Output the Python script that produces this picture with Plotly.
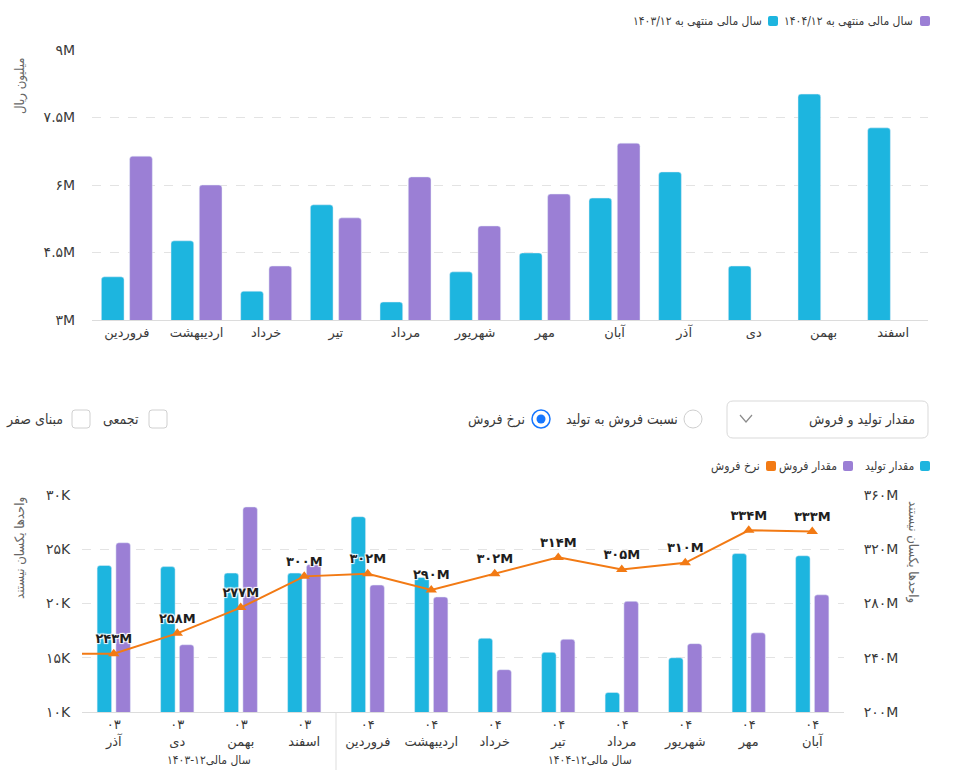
import plotly.graph_objects as go

W, H = 954, 770
FONT = "DejaVu Sans"
FONT_C = "DejaVu Sans Condensed, DejaVu Sans"

def px(x):
    return x / W

def py(y):
    return 1 - y / H

FA = str.maketrans("0123456789", "۰۱۲۳۴۵۶۷۸۹")
def to_fa(s):
    return str(s).translate(FA)

# ---------------- data: top chart ----------------
months_top = ["فروردین", "اردیبهشت", "خرداد", "تیر", "مرداد", "شهریور",
              "مهر", "آبان", "آذر", "دی", "بهمن", "اسفند"]
fy1403_name = "سال مالی منتهی به ۱۴۰۳/۱۲"
fy1404_name = "سال مالی منتهی به ۱۴۰۴/۱۲"
fy1403 = [3.96, 4.76, 3.64, 5.56, 3.40, 4.07, 4.49, 5.71, 6.29, 4.20, 8.02, 7.27]
fy1404 = [6.64, 6.00, 4.20, 5.27, 6.18, 5.09, 5.80, 6.93, None, None, None, None]
top_ticks = [3, 4.5, 6, 7.5, 9]
top_ticktext = [to_fa(("%g" % v)) + "M" for v in top_ticks]
top_ytitle = "میلیون ریال"

# ---------------- data: bottom chart ----------------
bottom_years = ["03"] * 4 + ["04"] * 8
bottom_months = ["آذر", "دی", "بهمن", "اسفند", "فروردین", "اردیبهشت",
                 "خرداد", "تیر", "مرداد", "شهریور", "مهر", "آبان"]
group_labels = ["سال مالی۱۲-۱۴۰۳", "سال مالی۱۲-۱۴۰۴"]
production = [23.5, 23.4, 22.8, 22.8, 28.0, 22.4, 16.8, 15.5, 11.8, 15.0, 24.6, 24.4]
sales = [25.6, 16.2, 28.9, 23.6, 21.7, 20.6, 13.9, 16.7, 20.2, 16.3, 17.3, 20.8]
price_before_window = 243  # previous month, outside the visible window
price = [243, 258, 277, 300, 302, 290, 302, 314, 305, 310, 334, 333]
left_ticks = [10, 15, 20, 25, 30]
left_ticktext = [to_fa(v) + "K" for v in left_ticks]
right_ticks = [200, 240, 280, 320, 360]
right_ticktext = [to_fa(v) + "M" for v in right_ticks]
bottom_ytitle = "واحدها یکسان نیستند"
names_bottom = ["مقدار تولید", "مقدار فروش", "نرخ فروش"]

CYAN = "#1db5df"
PURPLE = "#9b7fd5"
ORANGE = "#f27a14"
TXT = "#3a3a3a"
GRID = "#e3e3e3"

fig = go.Figure()

# top bars
xt = list(range(len(months_top)))
fig.add_trace(go.Bar(x=xt, y=fy1403, name=fy1403_name, marker_color=CYAN,
                     width=0.326, offset=-0.366, xaxis="x", yaxis="y"))
fig.add_trace(go.Bar(x=xt, y=fy1404, name=fy1404_name, marker_color=PURPLE,
                     width=0.326, offset=0.04, xaxis="x", yaxis="y"))

# bottom bars
xb = list(range(len(bottom_months)))
fig.add_trace(go.Bar(x=xb, y=production, name=names_bottom[0], marker_color=CYAN,
                     width=0.228, offset=-0.262, xaxis="x2", yaxis="y2"))
fig.add_trace(go.Bar(x=xb, y=sales, name=names_bottom[1], marker_color=PURPLE,
                     width=0.228, offset=0.034, xaxis="x2", yaxis="y2"))

# price line
xl = [-1] + xb
yl = [price_before_window] + price
labels = [""] + [to_fa(v) + "M" for v in price]
fig.add_trace(go.Scatter(
    x=xl, y=yl, name=names_bottom[2], mode="lines+markers+text",
    line=dict(color=ORANGE, width=2),
    marker=dict(symbol="triangle-up", size=10, color=ORANGE),
    text=labels, textposition="top center",
    textfont=dict(family=FONT, size=13, color="#1e1e1e", weight="bold",
                  shadow="1px 1px 1px #fff, -1px -1px 1px #fff, 1px -1px 1px #fff, -1px 1px 1px #fff"),
    xaxis="x2", yaxis="y3"))

shapes = []
annotations = []

def rrect(x0, y0, x1, y1, r):
    a0, a1 = px(x0), px(x1)
    b0, b1 = py(y0), py(y1)
    rx, ry = r / W, r / H
    return (f"M {a0+rx},{b0} L {a1-rx},{b0} Q {a1},{b0} {a1},{b0-ry} "
            f"L {a1},{b1+ry} Q {a1},{b1} {a1-rx},{b1} L {a0+rx},{b1} "
            f"Q {a0},{b1} {a0},{b1+ry} L {a0},{b0-ry} Q {a0},{b0} {a0+rx},{b0} Z")

def label(x, y, text, size=13, color=TXT, xanchor="right", angle=0, family=FONT_C):
    annotations.append(dict(x=px(x), y=py(y), xref="paper", yref="paper", text=text,
                            showarrow=False, xanchor=xanchor, yanchor="middle",
                            textangle=angle, font=dict(family=family, size=size, color=color)))

def square(x0, y0, color):
    shapes.append(dict(type="path", path=rrect(x0, y0, x0 + 10, y0 + 10, 2),
                       xref="paper", yref="paper", fillcolor=color, line=dict(width=0)))

# top legend
square(920, 16, PURPLE)
label(915, 21, fy1404_name, size=12)
square(768, 16, CYAN)
label(764, 21, fy1403_name, size=12)

# axis titles
label(20, 86, top_ytitle, size=13, color="#666", xanchor="center", angle=-90)
label(20, 548, bottom_ytitle, size=13, color="#666", xanchor="center", angle=-90)
label(913, 552, bottom_ytitle, size=13, color="#666", xanchor="center", angle=90)

# controls row
shapes.append(dict(type="path", path=rrect(727, 401, 928, 438, 6), xref="paper", yref="paper",
                   line=dict(color="#d9d9d9", width=1), fillcolor="white"))
label(917, 419, "مقدار تولید و فروش", size=14)
shapes.append(dict(type="path",
                   path=f"M {px(740)},{py(415)} L {px(746)},{py(422)} L {px(752)},{py(415)}",
                   xref="paper", yref="paper", line=dict(color="#8c8c8c", width=1.2)))
shapes.append(dict(type="circle", xref="paper", yref="paper", x0=px(684), x1=px(702),
                   y0=py(428), y1=py(410), line=dict(color="#cfcfcf", width=1), fillcolor="white"))
label(680, 419, "نسبت فروش به تولید", size=14)
shapes.append(dict(type="circle", xref="paper", yref="paper", x0=px(532), x1=px(550),
                   y0=py(428), y1=py(410), line=dict(color="#1677ff", width=1.5), fillcolor="white"))
shapes.append(dict(type="circle", xref="paper", yref="paper", x0=px(536.5), x1=px(545.5),
                   y0=py(423.5), y1=py(414.5), line=dict(width=0), fillcolor="#1677ff"))
label(527, 419, "نرخ فروش", size=14)
shapes.append(dict(type="path", path=rrect(149, 410, 167, 428, 3), xref="paper", yref="paper",
                   line=dict(color="#d0d0d0", width=1), fillcolor="white"))
label(141, 419, "تجمعی", size=14)
shapes.append(dict(type="path", path=rrect(72, 410, 90, 428, 3), xref="paper", yref="paper",
                   line=dict(color="#d0d0d0", width=1), fillcolor="white"))
label(65, 419, "مبنای صفر", size=14)

# bottom legend
square(920, 461, CYAN)
label(916, 466, names_bottom[0], size=12)
square(843, 461, PURPLE)
label(839, 466, names_bottom[1], size=12)
square(766, 461, ORANGE)
label(762, 466, names_bottom[2], size=12)

# bottom group divider and group labels
shapes.append(dict(type="line", xref="x2", yref="paper", x0=3.5, x1=3.5,
                   y0=py(770), y1=py(712), line=dict(color="#dddddd", width=1)))
for gx, gl in zip([1.5, 7.5], group_labels):
    annotations.append(dict(x=gx, y=py(760), xref="x2", yref="paper", text=gl,
                            showarrow=False, xanchor="center", yanchor="middle",
                            font=dict(family=FONT_C, size=12, color=TXT)))

axfont = dict(family=FONT, size=14, color=TXT)
fig.update_layout(
    width=W, height=H, autosize=False,
    margin=dict(l=0, r=0, t=0, b=0, pad=0, autoexpand=False),
    paper_bgcolor="white", plot_bgcolor="white",
    showlegend=False, barmode="overlay", barcornerradius=3,
    font=dict(family=FONT),
    xaxis=dict(domain=[px(92), px(928)], anchor="y", range=[-0.5, 11.5], automargin=False,
               tickvals=xt, ticktext=months_top, tickfont=dict(family=FONT, size=13, color=TXT),
               showgrid=False, zeroline=False, showline=True, linecolor="#dcdcdc",
               ticks="", fixedrange=True),
    yaxis=dict(domain=[py(320), py(50)], anchor="x", range=[3, 9], automargin=False,
               tickvals=top_ticks, ticktext=top_ticktext, tickfont=axfont,
               showgrid=True, gridcolor=GRID, griddash="dash", zeroline=False,
               ticks="outside", ticklen=13, tickcolor="rgba(0,0,0,0)"),
    xaxis2=dict(domain=[px(82), px(844)], anchor="y2", range=[-0.5, 11.5], automargin=False,
                tickvals=xb, ticktext=[to_fa(y) + "<br>" + m for y, m in zip(bottom_years, bottom_months)],
                tickfont=dict(family=FONT, size=13, color=TXT),
                showgrid=False, zeroline=False, showline=True, linecolor="#dcdcdc",
                ticks=""),
    yaxis2=dict(domain=[py(712), py(495)], anchor="x2", range=[10, 30], automargin=False,
                tickvals=left_ticks, ticktext=left_ticktext, tickfont=axfont,
                showgrid=True, gridcolor=GRID, griddash="dash", zeroline=False,
                ticks="outside", ticklen=8, tickcolor="rgba(0,0,0,0)"),
    yaxis3=dict(overlaying="y2", side="right", anchor="x2", range=[200, 360], automargin=False,
                tickvals=right_ticks, ticktext=right_ticktext, tickfont=axfont,
                showgrid=False, zeroline=False,
                ticks="outside", ticklen=16, tickcolor="rgba(0,0,0,0)"),
    shapes=shapes, annotations=annotations,
)

fig.write_html("out.html", config={"responsive": False})
